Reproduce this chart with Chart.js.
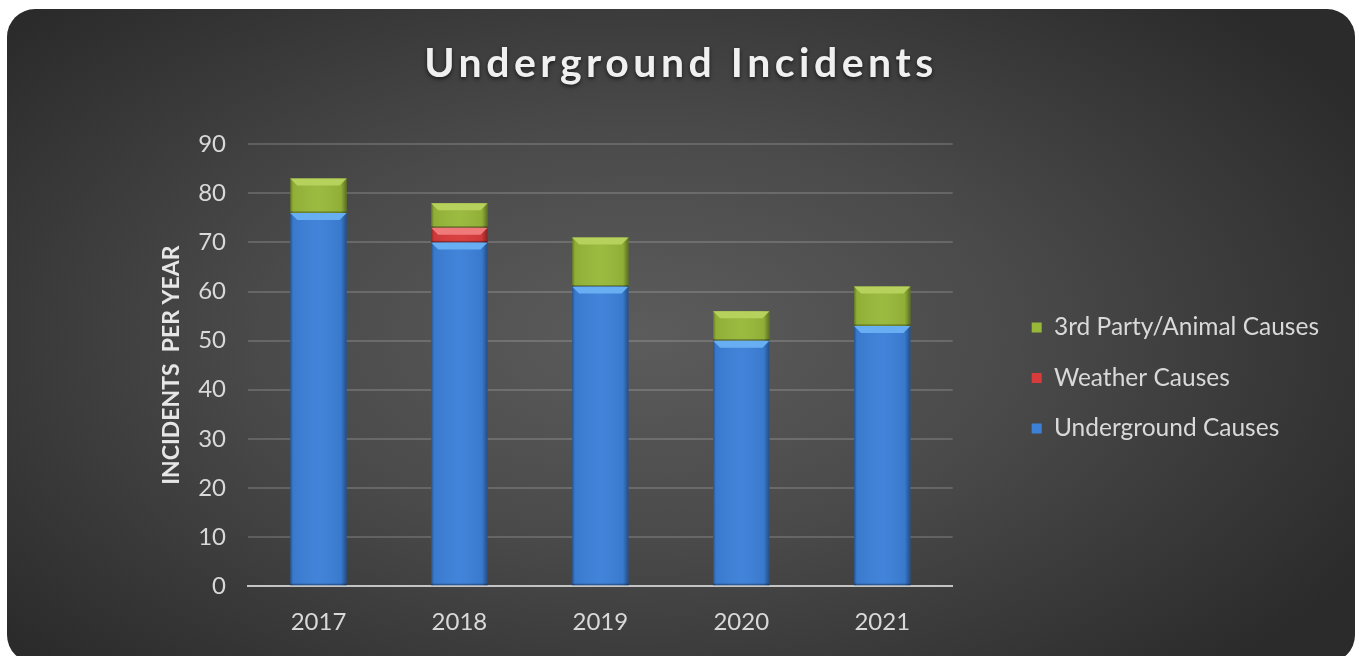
<!DOCTYPE html>
<html>
<head>
<meta charset="utf-8">
<title>Underground Incidents</title>
<script src="https://cdn.jsdelivr.net/npm/chart.js@4"></script>
<style>
  body { margin: 0; background: #ffffff; }
  #card {
    position: absolute;
    left: 7px;
    top: 9px;
    width: 1348px;
    height: 654px;
    border-radius: 28px;
    overflow: hidden;
    background: radial-gradient(ellipse 62% 70% at 47% 50%, #5c5c5c 0%, #4a4a4a 45%, #2b2b2b 100%);
  }
</style>
</head>
<body>
<div id="card">
  <canvas id="incidentsChart" width="1348" height="654"></canvas>
</div>
<script>
const years = ["2017", "2018", "2019", "2020", "2021"];
const undergroundCauses = [76, 70, 61, 50, 53];
const weatherCauses = [0, 3, 0, 0, 0];
const thirdPartyCauses = [7, 5, 10, 6, 8];
const yMax = 90;
const yStep = 10;

const textColor = "#d9d9d9";

// bevelled look on each bar: darker sides, light top facet, dark seam
const bevel = {
  id: "bevel",
  afterDatasetsDraw(chart) {
    const ctx = chart.ctx;
    chart.data.datasets.forEach((ds, i) => {
      const meta = chart.getDatasetMeta(i);
      meta.data.forEach((bar) => {
        const { x, y, base, width } = bar.getProps(["x", "y", "base", "width"], true);
        const h = base - y;
        if (h < 1) return;
        const l = x - width / 2;
        const r = x + width / 2;
        const b = Math.min(7, h / 2);
        ctx.save();
        const g = ctx.createLinearGradient(l, 0, r, 0);
        g.addColorStop(0, "rgba(0,0,0,0.35)");
        g.addColorStop(0.05, "rgba(0,0,0,0.05)");
        g.addColorStop(0.5, "rgba(255,255,255,0.03)");
        g.addColorStop(0.9, "rgba(0,0,0,0.05)");
        g.addColorStop(1, "rgba(0,0,0,0.4)");
        ctx.fillStyle = g;
        ctx.fillRect(l, y, width, h);
        ctx.fillStyle = ds.bevelColor;
        ctx.beginPath();
        ctx.moveTo(l, y);
        ctx.lineTo(r, y);
        ctx.lineTo(r - b, y + b);
        ctx.lineTo(l + b, y + b);
        ctx.closePath();
        ctx.fill();
        ctx.fillStyle = "rgba(0,0,0,0.3)";
        ctx.fillRect(l, base - 1.5, width, 1.5);
        ctx.restore();
      });
    });
  },
};

// letter spacing + soft shadow for the title text
const spacedTitle = {
  id: "spacedTitle",
  beforeDraw(chart) {
    const t = chart.titleBlock;
    if (!t || t._spaced) return;
    const draw = t.draw.bind(t);
    t.draw = function (area) {
      chart.ctx.save();
      chart.ctx.letterSpacing = "4.5px";
      chart.ctx.shadowColor = "rgba(0,0,0,0.6)";
      chart.ctx.shadowBlur = 4;
      chart.ctx.shadowOffsetY = 2;
      draw(area);
      chart.ctx.restore();
    };
    t._spaced = true;
  },
};

// push the legend away from the plot area
const legendGap = 79;
const legendShiftX = 53;
const legendShiftY = 48;
const shiftLegend = {
  id: "shiftLegend",
  beforeLayout(chart) {
    const lg = chart.legend;
    if (!lg || lg._shifted) return;
    const fit = lg.fit.bind(lg);
    lg.fit = function () {
      fit();
      this.width += legendGap;
    };
    lg._shifted = true;
  },
  afterLayout(chart) {
    if (!chart.legend) return;
    chart.legend.left += legendShiftX;
    chart.legend.top += legendShiftY;
    chart.legend.bottom += legendShiftY;
  },
};

new Chart(document.getElementById("incidentsChart").getContext("2d"), {
  type: "bar",
  data: {
    labels: years,
    datasets: [
      {
        label: "Underground Causes",
        data: undergroundCauses,
        backgroundColor: "#3c80d8",
        bevelColor: "#68aef2",
      },
      {
        label: "Weather Causes",
        data: weatherCauses,
        backgroundColor: "#d83b3b",
        bevelColor: "#f07a7a",
      },
      {
        label: "3rd Party/Animal Causes",
        data: thirdPartyCauses,
        backgroundColor: "#98b83a",
        bevelColor: "#b6d15c",
      },
    ],
  },
  options: {
    responsive: false,
    animation: false,
    devicePixelRatio: 1,
    layout: {
      padding: { left: 0, right: 0, top: 0, bottom: 12 },
    },
    datasets: {
      bar: {
        barPercentage: 0.4,
        categoryPercentage: 1,
        borderWidth: 0,
      },
    },
    scales: {
      x: {
        stacked: true,
        grid: { display: false },
        border: { color: "#c4c4c4", width: 2 },
        ticks: {
          color: textColor,
          font: { family: "Lato", size: 24 },
          padding: 14,
        },
      },
      y: {
        stacked: true,
        min: 0,
        max: yMax,
        afterFit(scale) {
          scale.width = 241;
        },
        ticks: {
          stepSize: yStep,
          color: textColor,
          font: { family: "Lato", size: 24 },
          padding: 22,
        },
        grid: {
          color: "rgba(255,255,255,0.16)",
          lineWidth: 2,
          drawTicks: false,
        },
        border: { display: false },
        title: {
          display: true,
          text: "INCIDENTS  PER YEAR",
          color: "#e6e6e6",
          font: { family: "Lato", size: 23, weight: "bold" },
          padding: { top: 151, bottom: 10 },
        },
      },
    },
    plugins: {
      title: {
        display: true,
        text: "Underground Incidents",
        color: "#f0f0f0",
        font: { family: "Lato", size: 41, weight: "bold" },
        padding: { top: 30, bottom: 56 },
      },
      legend: {
        position: "right",
        reverse: true,
        labels: {
          color: textColor,
          font: { family: "Lato", size: 24.5 },
          boxWidth: 10,
          boxHeight: 10,
          padding: 26,
        },
      },
      tooltip: { enabled: false },
    },
  },
  plugins: [bevel, spacedTitle, shiftLegend],
});
</script>
</body>
</html>
